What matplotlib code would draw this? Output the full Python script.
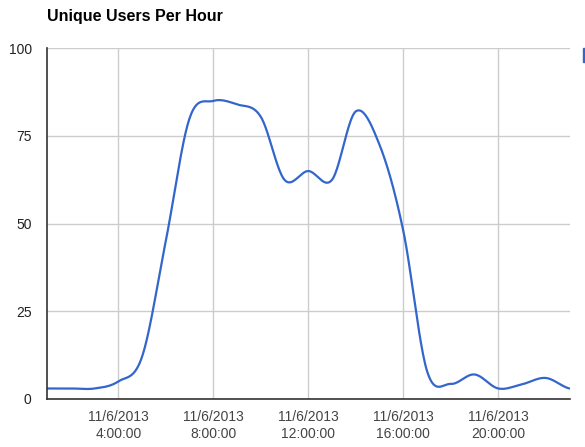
import numpy as np
import matplotlib
matplotlib.use("Agg")
import matplotlib.pyplot as plt
from matplotlib.patches import Rectangle

# hourly counts on 11/6/2013, hours 1..23
hours = np.arange(1, 24)
users = [3, 3, 3, 5, 12, 45, 80, 85, 84, 80.5, 62.5, 65, 62.5, 82, 72.5, 48,
         8, 4.3, 7, 3, 4.2, 6, 3]
tick_hours = [4, 8, 12, 16, 20]
tick_labels = ["11/6/2013\n4:00:00", "11/6/2013\n8:00:00", "11/6/2013\n12:00:00",
               "11/6/2013\n16:00:00", "11/6/2013\n20:00:00"]
y_ticks = [0, 25, 50, 75, 100]

BLUE = "#3366cc"


def smooth(x, y, s=0.5, n=24):
    # cardinal spline through the points (s=0.5 is Catmull-Rom)
    x = np.asarray(x, float)
    y = np.asarray(y, float)
    ye = np.concatenate([[y[0]], y, [y[-1]]])
    m = s * (ye[2:] - ye[:-2])
    t = np.linspace(0, 1, n, endpoint=False)
    h00 = 2 * t**3 - 3 * t**2 + 1
    h10 = t**3 - 2 * t**2 + t
    h01 = -2 * t**3 + 3 * t**2
    h11 = t**3 - t**2
    xs, ys = [], []
    for i in range(len(x) - 1):
        xs.append(x[i] + t * (x[i + 1] - x[i]))
        ys.append(h00 * y[i] + h10 * m[i] + h01 * y[i + 1] + h11 * m[i + 1])
    xs.append([x[-1]])
    ys.append([y[-1]])
    return np.concatenate(xs), np.concatenate(ys)


plt.rcParams["font.family"] = ["Liberation Sans", "DejaVu Sans"]
fig = plt.figure(figsize=(5.85, 4.47), dpi=100)
ax = fig.add_axes([47 / 585, 48 / 447, 522.5 / 585, 350.7 / 447])

sx, sy = smooth(hours, users)
ax.plot(sx, sy, color=BLUE, lw=1.6, solid_capstyle="round", zorder=3)

ax.set_xlim(1, 23)
ax.set_ylim(0, 100)
ax.set_xticks(tick_hours)
ax.set_xticklabels(tick_labels, fontsize=10, color="#444444", linespacing=1.25)
ax.set_yticks(y_ticks)
ax.set_yticklabels([str(v) for v in y_ticks], fontsize=10, color="#222222")
ax.tick_params(length=0, pad=8)
ax.tick_params(axis="y", pad=11)
ax.grid(True, color="#cccccc", lw=1)
ax.set_axisbelow(True)
for s in ("top", "right"):
    ax.spines[s].set_visible(False)
for s in ("left", "bottom"):
    ax.spines[s].set_color("#333333")
    ax.spines[s].set_linewidth(1.2)
    ax.spines[s].set_zorder(4)

fig.text(47 / 585, 1 - 17 / 447, "Unique Users Per Hour", fontsize=11.5,
         fontweight="bold", va="center", ha="left")
# clipped legend marker at the right edge
fig.patches.append(Rectangle((583 / 585, 1 - 62 / 447), 3 / 585, 14 / 447,
                             transform=fig.transFigure, color=BLUE))

fig.savefig("out.png", dpi=100)
